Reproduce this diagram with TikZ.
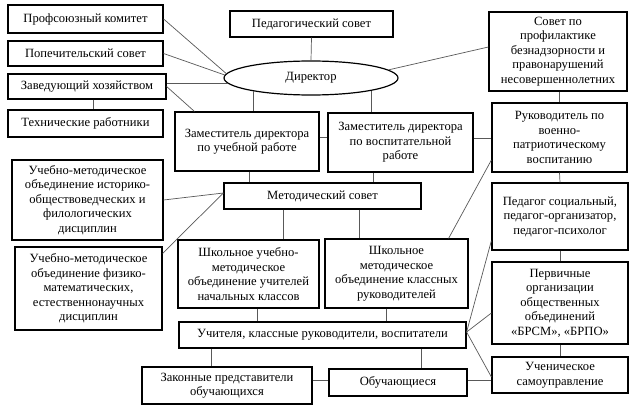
\documentclass[tikz,border=0pt]{standalone}
\usepackage{fontspec}
\setmainfont{Liberation Serif}
\usetikzlibrary{shapes.geometric}
\tikzset{
  box/.style={draw=black, line width=1.2pt, inner sep=1pt, align=center, fill=white,
    font=\fontsize{12.6}{14.5}\selectfont},
  conn/.style={draw=black!65, line width=0.7pt},
}
\newcommand{\bx}[6]{\node[box, minimum width=#4pt, minimum height=#5pt] (#1) at (#2,#3) {#6};}
\begin{document}
\begin{tikzpicture}[x=1pt, y=-1pt]
\useasboundingbox[fill=white] (0,0) rectangle (640,415);
% left column
\bx{prof}{85.5}{19}{155}{28}{Профсоюзный комитет}
\bx{popech}{85.5}{53.5}{155}{25}{Попечительский совет}
\bx{zavhoz}{87}{86.5}{158}{25}{Заведующий хозяйством}
\bx{tech}{85.5}{123.5}{155}{27}{Технические работники}
\bx{umoA}{87.5}{200}{151}{80}{Учебно-методическое\\объединение историко-\\обществоведческих и\\филологических\\дисциплин}
\bx{umoB}{88.5}{288.5}{147}{83}{Учебно-методическое\\объединение физико-\\математических,\\естественнонаучных\\дисциплин}
% centre
\bx{pedsov}{311.5}{24}{163}{26}{Педагогический совет}
\node[draw=black, line width=1.2pt, ellipse, inner sep=0pt, minimum width=174pt, minimum height=34pt,
  font=\fontsize{12.6}{14.5}\selectfont] (dir) at (311,78) {Директор};
\bx{zamuch}{247}{141.5}{144}{59}{Заместитель директора\\по учебной работе}
\bx{zamvos}{400.5}{142.5}{145}{59}{Заместитель директора\\по воспитательной\\работе}
\bx{metsov}{322.5}{196}{197}{26}{Методический совет}
\bx{shnach}{248.5}{274}{141}{68}{Школьное учебно-\\методическое\\объединение учителей\\начальных классов}
\bx{shkr}{396.5}{273.5}{143}{69}{Школьное\\методическое\\объединение классных\\руководителей}
\bx{uchit}{322.5}{335}{287}{26}{Учителя, классные руководители, воспитатели}
\bx{zakon}{227}{385.5}{170}{37}{Законные представители\\обучающихся}
\bx{obuch}{398}{382.5}{138}{27}{Обучающиеся}
% right column
\bx{sovprof}{558}{51.5}{138}{79}{Совет по\\профилактике\\безнадзорности и\\правонарушений\\несовершеннолетних}
\bx{rukvoen}{559.5}{137.5}{135}{69}{Руководитель по\\военно-\\патриотическому\\воспитанию}
\bx{pedsoc}{560}{216.5}{136}{67}{Педагог социальный,\\педагог-организатор,\\педагог-психолог}
\bx{perv}{560}{303}{136}{82}{Первичные\\организации\\общественных\\объединений\\«БРСМ», «БРПО»}
\bx{uchsam}{560}{375}{136}{36}{Ученическое\\самоуправление}
% connectors
\begin{scope}[conn]
\draw (pedsov.south) -- (dir.north);
\draw (prof.east) -- (dir.177);
\draw (popech.east) -- (dir.178.5);
\draw (dir.184 -| zavhoz.east) -- (dir.184);
\draw ([xshift=6pt]zavhoz.south) -- ([xshift=6pt]zavhoz.south |- tech.north);
\draw (zavhoz.east) -- ([xshift=20pt]zamuch.north west);
\draw (dir.193.5) -- (dir.193.5 |- zamuch.north);
\draw (dir.348) -- (dir.348 |- zamvos.north);
\draw (dir.6) -- ([yshift=4.5pt]sovprof.west);
\draw ([yshift=4.5pt]zamuch.east) -- ([yshift=4.5pt]zamuch.east -| zamvos.west);
\draw ([yshift=4.5pt]zamvos.east) -- ([yshift=4.5pt]zamvos.east -| rukvoen.west);
\draw ([xshift=2pt]zamuch.south) -- ([xshift=2pt]zamuch.south |- metsov.north);
\draw ([xshift=-27.5pt]zamvos.south) -- ([xshift=-27.5pt]zamvos.south |- metsov.north);
\draw (umoA.east) -- ([yshift=3pt]metsov.west);
\draw ([yshift=-7pt]umoB.north east) -- ([yshift=3pt]metsov.west);
\draw ([xshift=-39.5pt]metsov.south) -- ([xshift=-39.5pt]metsov.south |- shnach.north);
\draw ([xshift=36.5pt]metsov.south) -- ([xshift=36.5pt]metsov.south |- shkr.north);
\draw ([xshift=8.5pt]shnach.south) -- ([xshift=8.5pt]shnach.south |- uchit.north);
\draw ([xshift=-10pt]shkr.south) -- ([xshift=-10pt]shkr.south |- uchit.north);
\draw ([xshift=-111.5pt]uchit.south) -- ([xshift=-111.5pt]uchit.south |- zakon.north);
\draw ([xshift=98.5pt]uchit.south) -- ([xshift=98.5pt]uchit.south |- obuch.north);
\draw ([yshift=5.5pt]zakon.east) -- ([yshift=5.5pt]zakon.east -| obuch.west);
\draw ([yshift=2.5pt]obuch.east) -- ([yshift=2.5pt]obuch.east -| uchsam.west);
\draw (rukvoen.north |- sovprof.south) -- (rukvoen.north);
\draw (rukvoen.south) -- (pedsoc.north);
\draw (pedsoc.south) -- (perv.north);
\draw (perv.south) -- (uchsam.north);
\draw ([xshift=-20pt]shkr.north east) -- ([yshift=-22.5pt]rukvoen.west);
\draw ([yshift=3pt]uchit.east) -- ([yshift=10pt]pedsoc.south west);
\draw ([yshift=3pt]uchit.east) -- ([yshift=-10pt]perv.west);
\draw ([yshift=3pt]uchit.east) -- ([yshift=-2pt]uchsam.west);
\end{scope}
\end{tikzpicture}
\end{document}
